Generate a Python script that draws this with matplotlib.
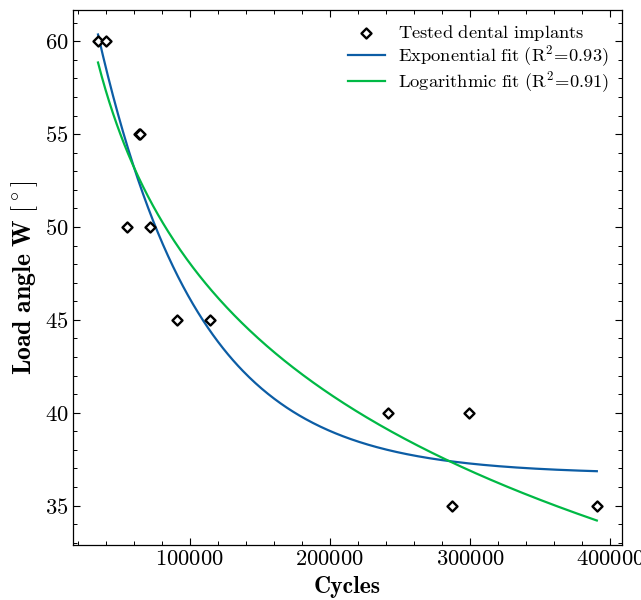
import numpy as np
import matplotlib.pyplot as plt
from matplotlib.ticker import MultipleLocator, AutoMinorLocator

# tested implants: cycles to failure at each load angle
cycles = [34600, 40500, 63800, 64600, 55300, 71400, 91200, 114800,
          241200, 299000, 286900, 390500]
angles = [60, 60, 55, 55, 50, 50, 45, 45, 40, 40, 35, 35]

x = np.array(cycles, dtype=float)
y = np.array(angles, dtype=float)


def r2(yt, yp):
    return 1 - np.sum((yt - yp) ** 2) / np.sum((yt - yt.mean()) ** 2)


# logarithmic fit y = a + b ln x
b_log, a_log = np.polyfit(np.log(x), y, 1)

# exponential fit y = a exp(-k x) + c, scan k and solve a, c linearly
best = None
for k in np.linspace(1e-7, 1e-4, 20000):
    A = np.column_stack([np.exp(-k * x), np.ones_like(x)])
    coef, *_ = np.linalg.lstsq(A, y, rcond=None)
    err = np.sum((A @ coef - y) ** 2)
    if best is None or err < best[0]:
        best = (err, k, coef)
_, k_exp, (a_exp, c_exp) = best

xs = np.linspace(x.min(), x.max(), 400)
y_exp = a_exp * np.exp(-k_exp * xs) + c_exp
y_log = a_log + b_log * np.log(xs)
r2_exp = r2(y, a_exp * np.exp(-k_exp * x) + c_exp)
r2_log = r2(y, a_log + b_log * np.log(x))

plt.rcParams.update({
    'font.family': 'serif',
    'font.serif': ['cmr10'],
    'mathtext.fontset': 'cm',
    'axes.formatter.use_mathtext': True,
    'axes.unicode_minus': False,
    'xtick.direction': 'in',
    'ytick.direction': 'in',
    'xtick.top': True,
    'ytick.right': True,
    'xtick.minor.visible': True,
    'ytick.minor.visible': True,
    'xtick.major.size': 5,
    'ytick.major.size': 5,
    'xtick.minor.size': 2.8,
    'ytick.minor.size': 2.8,
    'xtick.major.width': 0.8,
    'ytick.major.width': 0.8,
    'xtick.minor.width': 0.7,
    'ytick.minor.width': 0.7,
    'axes.linewidth': 0.9,
})

fig = plt.figure(figsize=(6.41, 6.0), dpi=100)
ax = fig.add_axes([0.114, 0.092, 0.856, 0.891])

ax.scatter(x, y, marker='D', s=26, facecolor='white', edgecolor='black',
           linewidth=1.7, label=r'$\mathrm{Tested\ dental\ implants}$', zorder=3)
ax.plot(xs, y_exp, color='#0C5DA5', lw=1.6,
        label=r'$\mathrm{Exponential\ fit\ (R^2\!=\!%.2f)}$' % r2_exp)
ax.plot(xs, y_log, color='#00B945', lw=1.6,
        label=r'$\mathrm{Logarithmic\ fit\ (R^2\!=\!%.2f)}$' % r2_log)

ax.xaxis.set_major_locator(MultipleLocator(100000))
ax.xaxis.set_minor_locator(AutoMinorLocator(5))
ax.yaxis.set_minor_locator(AutoMinorLocator(5))

ax.set_xlabel('Cycles', fontsize=17, fontfamily='cmb10', labelpad=5)
ax.set_ylabel(r'$\mathbf{Load\ angle\ W\ [^\circ]}$', fontsize=18.5, labelpad=3)
ax.tick_params(labelsize=16.3)
ax.legend(loc='upper right', frameon=False, handlelength=2.0,
          handletextpad=0.7, labelspacing=0.02, borderaxespad=0.3,
          fontsize=13.3)

fig.savefig('out.png', dpi=100)
